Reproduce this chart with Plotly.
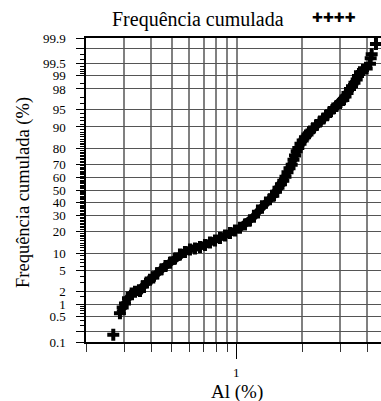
import plotly.graph_objects as go
from statistics import NormalDist

# Al (%) values of the plotted sample points and their cumulative frequency (%)
al_pct = [0.2675, 0.2872, 0.2957, 0.3030, 0.3129, 0.3255, 0.3372, 0.3556, 0.3671, 0.3819,
          0.3956, 0.4097, 0.4262, 0.4479, 0.4667, 0.4896, 0.5164, 0.5446, 0.5744, 0.6059,
          0.6390, 0.6741, 0.7110, 0.7499, 0.7910, 0.8343, 0.8801, 0.9281, 0.9788, 1.0325,
          1.0890, 1.1486, 1.1986, 1.2508, 1.3053, 1.3622, 1.4215, 1.4725, 1.5156, 1.5565,
          1.5984, 1.6383, 1.6770, 1.7134, 1.7505, 1.7917, 1.8266, 1.8559, 1.8900, 1.9225,
          1.9680, 2.0148, 2.0646, 2.1204, 2.1777, 2.2486, 2.3389, 2.4228, 2.5150, 2.6106,
          2.6956, 2.7920, 2.8888, 2.9990, 3.1060, 3.1798, 3.2486, 3.3361, 3.4083, 3.4995,
          3.5826, 3.6326, 3.7105, 3.8312, 3.9856, 4.1281, 4.1591, 4.2036, 4.4007]
cum_freq = [0.162, 0.614, 0.845, 1.05, 1.39, 1.76, 1.93, 2.00, 2.52, 2.99,
            3.39, 3.75, 4.51, 5.33, 6.14, 6.97, 8.21, 9.51, 10.40, 11.33,
            11.74, 12.34, 13.20, 14.30, 15.24, 16.46, 17.75, 19.1, 20.5, 22.1,
            24.1, 26.7, 29.5, 33.0, 36.8, 39.9, 42.6, 45.4, 48.6, 51.9,
            54.7, 57.5, 60.6, 64.1, 67.0, 69.6, 73.0, 75.9, 78.4, 80.4,
            82.6, 84.3, 85.8, 87.07, 88.3, 89.5, 90.7, 91.8, 92.7, 93.6,
            94.35, 95.1, 95.6, 96.14, 96.62, 97.12, 97.56, 97.99, 98.26, 98.54,
            98.76, 98.97, 99.17, 99.26, 99.32, 99.49, 99.63, 99.71, 99.85]

y_tick_values = [0.1, 0.2, 0.5, 1, 2, 5, 10, 20, 30, 40, 50, 60, 70, 80, 90, 95, 98, 99, 99.5, 99.8, 99.9]
y_tick_labels = ["0.1", "", "0.5", "1", "2", "5", "10", "20", "30", "40", "50", "60", "70", "80",
                 "90", "95", "98", "99", "99.5", "", "99.9"]
y_minor_values = ([0.3, 0.4, 0.6, 0.7, 0.8, 0.9, 1.5, 3, 4, 6, 7, 8, 9]
                  + [v for v in range(11, 95) if v % 10 != 0]
                  + [96, 97, 98.5, 99.1, 99.2, 99.3, 99.4, 99.6, 99.7])
x_tick_values = [1]
x_tick_labels = ["1"]
x_minor_values = [0.2, 0.3, 0.4, 0.5, 0.6, 0.7, 0.8, 0.9, 2, 3, 4]

nd = NormalDist()


def probit(p):
    return nd.inv_cdf(p / 100.0)


y_vals = [probit(p) for p in cum_freq]
SERIF = "Liberation Serif"

fig = go.Figure()
# dense band of overlapping points
fig.add_trace(go.Scatter(x=al_pct[1:73], y=y_vals[1:73], mode="lines",
                         line=dict(color="black", width=8), hoverinfo="skip", showlegend=False))
fig.add_trace(go.Scatter(x=al_pct, y=y_vals, mode="markers", name="Frequência cumulada",
                         marker=dict(symbol="cross", size=10, color="black"), showlegend=False))

annotations = [
    dict(text="Frequência cumulada (%)", textangle=-90, xref="paper", yref="paper",
         x=0, y=0.5, xshift=-63, yshift=-3, showarrow=False, xanchor="center", yanchor="middle",
         font=dict(family=SERIF, size=18.5)),
    dict(text="Al (%)", xref="x", yref="paper", x=0, y=0, yshift=-50,
         showarrow=False, xanchor="center", yanchor="middle",
         font=dict(family=SERIF, size=19)),
    dict(text="Frequência cumulada", xref="paper", yref="paper",
         x=(197.5 - 86) / 295, y=1, yshift=19, showarrow=False,
         xanchor="center", yanchor="middle", font=dict(family=SERIF, size=20)),
    dict(text="✚✚✚✚", xref="paper", yref="paper",
         x=(334 - 86) / 295, y=1, yshift=21, showarrow=False,
         xanchor="center", yanchor="middle", font=dict(family="DejaVu Sans", size=13)),
]
# x tick label(s) placed under the long major tick
for v, t in zip(x_tick_values, x_tick_labels):
    annotations.append(dict(text=t, xref="x", yref="paper", x=0 if v == 1 else None, y=0,
                            yshift=-30, showarrow=False, xanchor="center", yanchor="middle",
                            font=dict(family=SERIF, size=13)))

fig.update_layout(
    template="none",
    width=381, height=401,
    margin=dict(l=86, r=0, t=38, b=59),
    paper_bgcolor="white", plot_bgcolor="white",
    font=dict(family=SERIF, color="black"),
    xaxis=dict(type="log", range=[-0.69897, -0.69897 + 295 / 216],
               tickmode="array", tickvals=x_tick_values, ticktext=x_tick_labels,
               showticklabels=False,
               ticks="outside", ticklen=15, tickcolor="black", tickwidth=1,
               showgrid=True, gridcolor="#808080", gridwidth=1.5,
               showline=True, linecolor="black", linewidth=1.5, mirror=True,
               zeroline=False, automargin=False,
               minor=dict(tickmode="array", tickvals=x_minor_values, ticks="outside",
                          ticklen=8, tickcolor="#333", tickwidth=1,
                          showgrid=True, gridcolor="#808080", gridwidth=1.5)),
    yaxis=dict(range=[probit(0.1), probit(99.9)],
               tickmode="array", tickvals=[probit(v) for v in y_tick_values], ticktext=y_tick_labels,
               ticks="outside", ticklen=8, tickcolor="black", tickwidth=1,
               ticklabelstandoff=8,
               tickfont=dict(family=SERIF, size=13),
               showgrid=True, gridcolor="#555555", gridwidth=1,
               showline=True, linecolor="black", linewidth=1.5,
               zeroline=False, automargin=False,
               minor=dict(tickmode="array", tickvals=[probit(v) for v in y_minor_values],
                          ticks="outside", ticklen=4, tickcolor="black", tickwidth=1,
                          showgrid=False)),
    annotations=annotations,
)

fig.write_html("out.html")
